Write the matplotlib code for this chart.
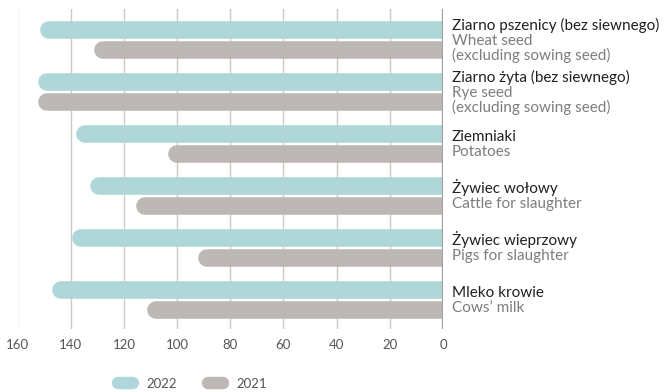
import matplotlib.pyplot as plt
from matplotlib.lines import Line2D
import numpy as np

# Data
labels_pl = ["Ziarno pszenicy (bez siewnego)", "Ziarno żyta (bez siewnego)", "Ziemniaki",
             "Żywiec wołowy", "Żywiec wieprzowy", "Mleko krowie"]
labels_en = [["Wheat seed", "(excluding sowing seed)"], ["Rye seed", "(excluding sowing seed)"],
             ["Potatoes"], ["Cattle for slaughter"], ["Pigs for slaughter"], ["Cows’ milk"]]
values_2022 = [151.3, 152.1, 137.9, 132.7, 139.5, 147.1]
values_2021 = [131.1, 152.4, 103.4, 115.4, 92.0, 111.2]
xticks = [160, 140, 120, 100, 80, 60, 40, 20, 0]

c2022 = '#afd7d9'
c2021 = '#bdb8b5'
plt.rcParams['font.family'] = ['Lato', 'DejaVu Sans']

dpi = 100
fig = plt.figure(figsize=(6.64, 3.92), dpi=dpi)
ax = fig.add_axes([17.5 / 664, 63 / 392, 425.5 / 664, 320 / 392])

n = len(labels_pl)
pos = np.arange(n)
ax.set_xlim(160, 0)
ax.set_ylim(n - 1 + 0.563, -0.59)

# bar thickness in points and the round cap radius in data units
bar_px = 17.6
bar_lw = bar_px * 72 / dpi
px_per_unit = abs(ax.transData.transform((1, 0))[0] - ax.transData.transform((0, 0))[0])
r = (bar_px / 2) / px_per_unit

off = 0.19
ax.hlines(pos - off, np.array(values_2022) - r, 0, colors=c2022, linewidth=bar_lw,
          capstyle='round', zorder=3)
ax.hlines(pos + off, np.array(values_2021) - r, 0, colors=c2021, linewidth=bar_lw,
          capstyle='round', zorder=3)

# vertical grid and zero line
ax.set_xticks(xticks)
ax.set_yticks([])
ax.grid(axis='x', color='#cdc9c6', linewidth=1.0, zorder=0)
ax.axvline(0, color='#a29e9b', linewidth=1.6, zorder=4)
for s in ax.spines.values():
    s.set_visible(False)
ax.tick_params(axis='x', length=0, pad=7, labelsize=9.5, labelcolor='#555555')

# category labels to the right of the zero line
line_px = 15.0
for i in range(n):
    lines = [(labels_pl[i], '#231f20')] + [(t, '#7d7d7d') for t in labels_en[i]]
    k_n = len(lines)
    for k, (txt, col) in enumerate(lines):
        dy_px = -((k - (k_n - 1) / 2) * line_px + 5)
        ax.annotate(txt, xy=(0, pos[i]), xytext=(9 * 72 / dpi, dy_px * 72 / dpi),
                    textcoords='offset points', ha='left', va='baseline',
                    fontsize=11, color=col, annotation_clip=False)

handles = [Line2D([], [], color=c2022, linewidth=12.4 * 72 / dpi, solid_capstyle='round'),
           Line2D([], [], color=c2021, linewidth=12.4 * 72 / dpi, solid_capstyle='round')]
leg = fig.legend(handles, ['2022', '2021'], loc='center', bbox_to_anchor=(192.5 / 664, 1 - 384 / 392),
                 ncol=2, frameon=False, fontsize=9.5, handlelength=1.1, handletextpad=1.0,
                 columnspacing=2.4, borderpad=0)
for t in leg.get_texts():
    t.set_color('#555555')

fig.savefig('out.png', dpi=dpi)
